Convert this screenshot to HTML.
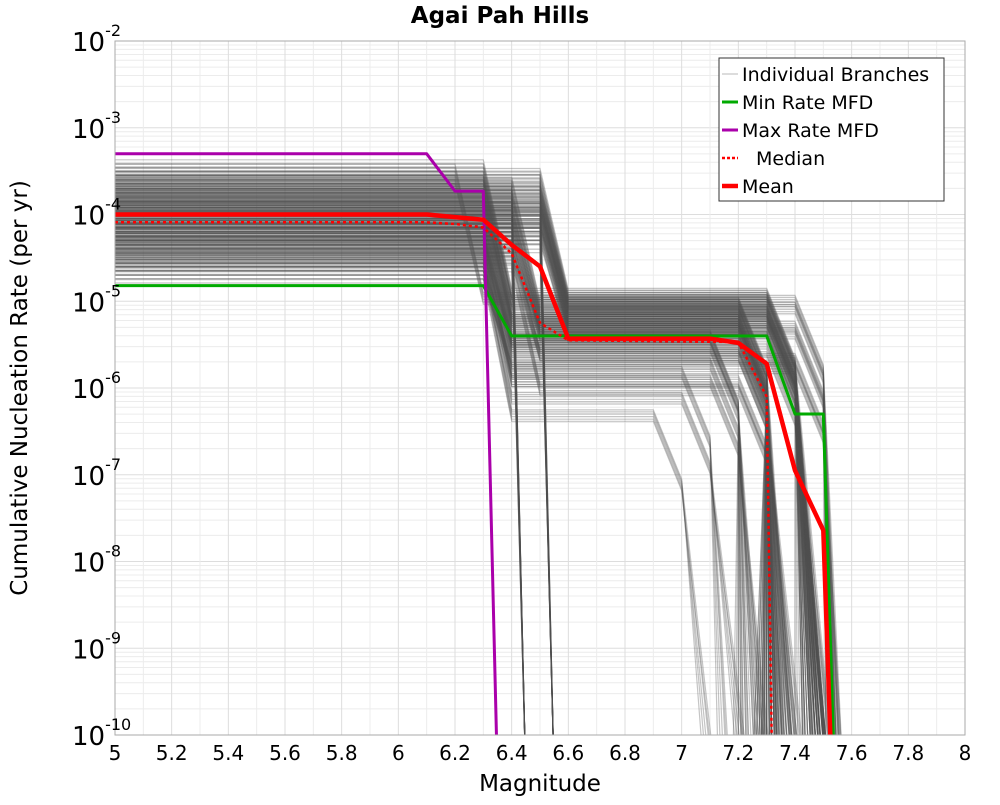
<!DOCTYPE html>
<html><head><meta charset="utf-8"><style>
body{margin:0;background:#fff;font-family:"Liberation Sans","DejaVu Sans",sans-serif}
</style></head><body>
<svg id="chart" width="1000" height="800" xmlns="http://www.w3.org/2000/svg" font-family="DejaVu Sans, Liberation Sans, sans-serif">
<defs><clipPath id="clip"><rect x="115" y="41" width="850" height="694"/></clipPath></defs>
<rect width="1000" height="800" fill="#fff"/>
<text x="500" y="23" text-anchor="middle" font-size="23" font-weight="bold">Agai Pah Hills</text>
<g id="grid"></g>
<g id="branches" clip-path="url(#clip)"></g>
<g id="main" clip-path="url(#clip)"></g>
<rect x="115" y="41" width="850" height="694" fill="none" stroke="#aaa" stroke-width="1"/>
<g id="ticks"></g>
<text x="540" y="791" text-anchor="middle" font-size="23">Magnitude</text>
<text transform="translate(27,388) rotate(-90)" text-anchor="middle" font-size="23">Cumulative Nucleation Rate (per yr)</text>
<g id="legend">
<rect x="719" y="58" width="225" height="143" fill="#fff" stroke="#333" stroke-width="1"/>
</g>
</svg>
<script>
const NS="http://www.w3.org/2000/svg";
const X0=115,X1=965,Y0=41,Y1=735;
const xMin=5,xMax=8,yMinLog=-10,yMaxLog=-2;
function sx(m){return X0+(m-xMin)/(xMax-xMin)*(X1-X0);}
function sy(l){return Y0+(yMaxLog-l)/(yMaxLog-yMinLog)*(Y1-Y0);}
const xTicks=[5,5.2,5.4,5.6,5.8,6,6.2,6.4,6.6,6.8,7,7.2,7.4,7.6,7.8,8];
const xTickLabels=["5","5.2","5.4","5.6","5.8","6","6.2","6.4","6.6","6.8","7","7.2","7.4","7.6","7.8","8"];
const yTicks=[-2,-3,-4,-5,-6,-7,-8,-9,-10];
const yTickLabels=["-2","-3","-4","-5","-6","-7","-8","-9","-10"];
const meanMag=[5,6.1,6.2,6.3,6.4,6.5,6.6,7.1,7.2,7.3,7.4,7.5,7.53];
const meanLog=[-4,-4,-4.03,-4.06,-4.35,-4.6,-5.43,-5.43,-5.48,-5.72,-6.95,-7.64,-10.5];
const medianMag=[5,6.1,6.2,6.3,6.4,6.5,6.6,7.2,7.3,7.32];
const medianLog=[-4.09,-4.09,-4.11,-4.15,-4.45,-5.25,-5.45,-5.47,-6.1,-10.5];
const minMag=[5,6.3,6.4,7.3,7.4,7.5,7.54];
const minLog=[-4.82,-4.82,-5.4,-5.4,-6.3,-6.3,-10.5];
const maxMag=[5,6.1,6.2,6.3,6.35];
const maxLog=[-3.3,-3.3,-3.73,-3.73,-10.5];
const brR1=[-3.45,-3.5,-3.55,-3.6,-3.62,-3.65,-3.7,-3.72,-3.75,-3.78,-3.8,-3.82,-3.85,-3.87,-3.9,-3.92,-3.95,-3.97,-4.0,-4.02,-4.05,-4.07,-4.1,-4.12,-4.15,-4.17,-4.2,-4.22,-4.25,-4.28,-4.3,-4.33,-4.36,-4.4,-4.43,-4.47,-4.5,-4.55,-4.6,-4.65,-3.68,-3.9,-4.1,-4.3,-3.58,-3.95,-4.2,-4.45,-3.75,-4.05,-3.5,-3.8,-4.0,-4.35,-4.6,-3.65,-3.88,-4.15,-4.25,-4.52];
const brDrop=[6.3,6.2,6.5,6.3,6.5,6.4,6.3,6.5,6.5,6.3,6.4,6.5,6.3,6.5,6.4,6.3,6.5,6.3,6.4,6.5,6.3,6.4,6.5,6.3,6.4,6.3,6.5,6.3,6.4,6.3,6.3,6.4,6.3,6.3,6.4,6.3,6.3,6.3,6.3,6.3,6.4,6.4,6.4,6.5,6.5,6.5,6.5,6.4,6.4,6.5,6.3,6.5,6.5,6.4,6.3,6.3,6.5,6.5,6.3,6.4];
const brR2=[-4.9,-4.95,-4.92,-5.0,-4.97,-5.05,-5.1,-5.0,-5.02,-5.15,-5.12,-5.08,-5.2,-5.1,-5.18,-5.25,-5.15,-5.3,-5.22,-5.2,-5.35,-5.28,-5.25,-5.4,-5.32,-5.45,-5.3,-5.5,-5.38,-5.55,-5.42,-5.6,-5.5,-5.7,-5.6,-5.8,-5.9,-6.1,-6.3,-5.65,null,null,null,null,null,null,null,null,null,null,-4.98,-5.06,-5.12,-5.35,-5.75,-5.2,-5.28,-5.4,-5.9,-6.0];
const brFallStart=[7.3,7.3,7.3,7.2,7.3,7.2,7.3,7.3,7.2,7.3,7.2,7.3,7.2,7.3,7.2,7.2,7.3,7.2,7.3,7.2,7.2,7.3,7.2,7.1,7.3,7.2,7.2,7.2,7.1,7.3,7.2,7.2,7.1,7.1,7.2,7.0,7.1,7.0,6.9,7.4,0,0,0,0,0,0,0,0,0,0,7.4,7.4,7.3,7.4,7.4,7.3,7.4,7.3,7.2,7.2];
const brFallEnd=[7.52,7.5,7.48,7.38,7.5,7.34,7.45,7.5,7.3,7.42,7.32,7.5,7.33,7.46,7.28,7.38,7.5,7.32,7.45,7.3,7.27,7.52,7.35,7.25,7.5,7.33,7.27,7.4,7.22,7.5,7.32,7.42,7.28,7.2,7.4,7.15,7.3,7.22,7.1,7.55,6.45,6.45,6.45,6.55,6.55,6.55,6.55,6.45,6.45,6.55,7.55,7.54,7.5,7.53,7.55,7.45,7.53,7.48,7.38,7.35];
function el(tag,attrs,parent){const e=document.createElementNS(NS,tag);for(const k in attrs)e.setAttribute(k,attrs[k]);parent.appendChild(e);return e;}
function pts(ms,ls){return ms.map((m,i)=>sx(m).toFixed(1)+","+sy(ls[i]).toFixed(1)).join(" ");}
const grid=document.getElementById("grid");
for(let d=yMinLog;d<yMaxLog;d++){for(let k=1;k<10;k++){const l=d+Math.log10(k);
 const g=el("line",{x1:X0,x2:X1,y1:sy(l),y2:sy(l),stroke:k===1?"#ddd":"#ececec","stroke-width":1},grid);
 
 }}
for(let i=0;i<=30;i++){const m=5+i*0.1;
 const g=el("line",{x1:sx(m),x2:sx(m),y1:Y0,y2:Y1,stroke:i%2===0?"#ddd":"#ececec","stroke-width":1},grid);
 
 }
const br=document.getElementById("branches");
const repOff=[-0.1,-0.05,0,0.04,0.08,-0.14];
const repFall=[0,0.01,-0.01,0.02,-0.02,0.015];
for(let rep=0;rep<repOff.length;rep++){
for(let i=0;i<brR1.length;i++){
 let ms,ls;const r1=brR1[i]+repOff[rep];
 if(brR2[i]===null){ms=[5,brDrop[i],brFallEnd[i]];ls=[r1,r1,-10.5];}
 else{const r2=brR2[i]+repOff[rep]*0.6;ms=[5,brDrop[i],brDrop[i]+0.1,brFallStart[i],brFallStart[i]+0.1,brFallEnd[i]+repFall[rep]];ls=[r1,r1,r2,r2,r2-0.8,-10.5];}
 const p=el("polyline",{points:pts(ms,ls),fill:"none",stroke:"#505050","stroke-opacity":0.33,"stroke-width":1.2},br);
 
 
}}
const main=document.getElementById("main");
function series(ms,ls,color,w,name,dash){const p=el("polyline",{points:pts(ms,ls),fill:"none",stroke:color,"stroke-width":w,"stroke-linejoin":"round"},main);
 if(dash)p.setAttribute("stroke-dasharray",dash);
 
 }
series(minMag,minLog,"#00aa00",3,"min-rate-mfd-line");
series(maxMag,maxLog,"#aa00aa",3,"max-rate-mfd-line");
series(medianMag,medianLog,"#ff0000",2.5,"median-line","3,3");
series(meanMag,meanLog,"#ff0000",4.5,"mean-line");
const tk=document.getElementById("ticks");
xTicks.forEach((m,i)=>{const t=el("text",{x:sx(m),y:760,"text-anchor":"middle","font-size":20},tk);t.textContent=xTickLabels[i];
 
 });
yTicks.forEach((l,i)=>{const t=el("text",{x:72,y:sy(l)+10,"text-anchor":"start","font-size":26},tk);
 const a=el("tspan",{},t);a.textContent="10";const b=el("tspan",{dy:-15,"font-size":16},t);b.textContent=yTickLabels[i];
 
 });
const lg=document.getElementById("legend");
const legItems=[["Individual Branches","#505050",1,null],["Min Rate MFD","#00aa00",3,null],["Max Rate MFD","#aa00aa",3,null],["Median","#ff0000",2.5,"3,2"],["Mean","#ff0000",4.5,null]];
legItems.forEach((it,i)=>{const y=74+i*28;
 const l=el("line",{x1:722,x2:738,y1:y,y2:y,stroke:it[1],"stroke-width":it[2],"stroke-opacity":i===0?0.4:1},lg);
 if(it[3])l.setAttribute("stroke-dasharray",it[3]);
 
 
 const t=el("text",{x:i===3?756:742,y:y+7,"font-size":19},lg);t.textContent=it[0];
 
 });
</script>
</body></html>
